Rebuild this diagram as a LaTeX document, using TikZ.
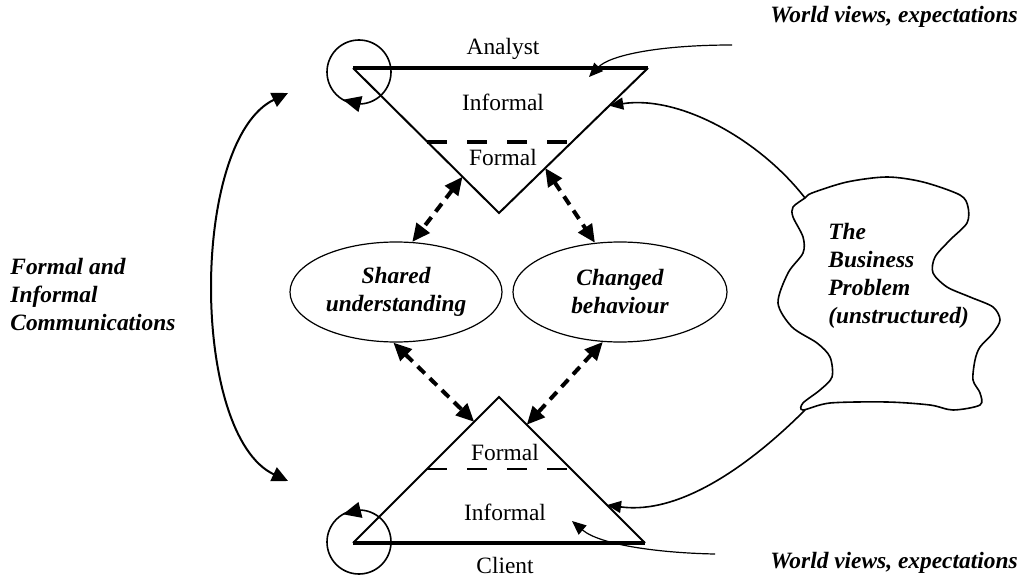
\documentclass[tikz,border=0pt]{standalone}
\usepackage{fontspec}
\setmainfont{Liberation Serif}
\usetikzlibrary{arrows.meta,calc,shapes.geometric}

\tikzset{
  lbl/.style={font=\fontsize{11.7}{14}\selectfont},
  bilbl/.style={font=\fontsize{11.7}{14}\selectfont\bfseries\itshape, align=left, inner sep=0pt},
  goal/.style={shape=ellipse, draw=black, line width=0.6pt, inner sep=0pt,
    minimum height=50pt, align=center, font=\fontsize{11.7}{14}\selectfont\bfseries\itshape},
  dasharrow/.style={{Triangle[length=9pt,width=8pt]}-{Triangle[length=9pt,width=8pt]},
    line width=2pt, dash pattern=on 5pt off 3.5pt},
  thinarrow/.style={-{Triangle[length=7pt,width=6pt]}, line width=0.6pt},
  looparrow/.style={-{Triangle[length=9pt,width=8pt]}, line width=0.8pt},
}

\begin{document}
\begin{tikzpicture}[x=0.5pt, y=0.5pt]
	\useasboundingbox (0,0) rectangle (1021,579);
	
	% analyst (top) and client (bottom) triangles
	\coordinate (a1) at (353,511);
	\coordinate (a2) at (648,511);
	\coordinate (a3) at (499,366);
	\coordinate (c1) at (499,182);
	\coordinate (c2) at (353,36);
	\coordinate (c3) at (645,36);
	
	\draw[line width=1pt, line join=miter] (a2) -- (a3) -- (a1);
	\draw[line width=1.6pt] (a1) -- (a2);
	\draw[line width=2pt, dash pattern=on 10pt off 10pt] ($(a1)!0.51!(a3)$) -- ($(a2)!0.51!(a3)$);
	\draw[line width=1pt, line join=miter] (c2) -- (c1) -- (c3);
	\draw[line width=1.6pt] (c2) -- (c3);
	\draw[line width=1pt, dash pattern=on 10pt off 10pt] ($(c1)!0.493!(c2)$) -- ($(c1)!0.493!(c3)$);
	
	\node[lbl] (analyst) at (503,530) {Analyst};
	\node[lbl] (ainf)    at (503,477) {Informal};
	\node[lbl] (aform)   at (503,422) {Formal};
	\node[lbl] (cform)   at (505,127) {Formal};
	\node[lbl] (cinf)    at (505,67)  {Informal};
	\node[lbl] (client)  at (505,14)  {Client};
	
	% self loops
	\node[shape=circle, draw=black, line width=0.8pt, minimum size=32pt, outer sep=0pt] (aloop) at (359,507) {};
	\node[shape=circle, draw=black, line width=0.8pt, minimum size=32pt, outer sep=0pt] (cloop) at (359,37) {};
	\draw[looparrow] (aloop.272) -- (aloop.240);
	\draw[looparrow] (cloop.88) -- (cloop.120);
	
	% outcomes
	\node[goal, minimum width=106pt] (shared)  at (396,287) {Shared\\understanding};
	\node[goal, minimum width=107pt] (changed) at (620,287) {Changed\\behaviour};
	
	\draw[dasharrow] ($(a1)!0.75!(a3)$) -- (shared.72);
	\draw[dasharrow] ($(a2)!0.69!(a3)$) -- (changed.117);
	\draw[dasharrow] (shared.267) -- ($(c1)!0.17!(c2)$);
	\draw[dasharrow] (changed.251) -- ($(c1)!0.19!(c3)$);
	
	% the business problem
	\draw[line width=0.8pt] plot[smooth cycle, tension=0.5] coordinates {
		(805,381) (812,386) (847,397) (887,402) (923,397) (960,384) (968,372)
		(967,356) (950,339) (935,322) (933,306) (947,292) (970,282) (993,272)
		(1000,259) (993,246) (980,232) (975,219) (973,199) (980,186) (980,174)
		(953,169) (930,174) (887,177) (830,176) (803,169) (803,176) (820,189)
		(832,202) (830,222) (817,236) (792,252) (778,276) (788,306) (803,326)
		(803,342) (793,362) (793,372)};
	\node[bilbl, anchor=west] (problem) at (828,303) {The\\Business\\Problem\\(unstructured)};
	\coordinate (ptop) at (805,381);
	\coordinate (pbot) at (805,169);
	
	\draw[thinarrow, line width=0.8pt] (ptop) .. controls (760,439) and (680,484) .. ($(a2)!0.26!(a3)$);
	\draw[thinarrow, line width=0.8pt] (pbot) .. controls (750,114) and (680,64) .. ($(c1)!0.74!(c3)$);
	
	% world views
	\node[bilbl, anchor=east] (wvtop) at (1018,562) {World views, expectations};
	\node[bilbl, anchor=east] (wvbot) at (1018,16)  {World views, expectations};
	\coordinate (wvtopend) at (732,534);
	\coordinate (wvbotend) at (715,25);
	\coordinate (ainfin) at (589,502);
	\coordinate (cinfin) at (572,58);
	\draw[thinarrow] (wvtopend) .. controls (660,534) and (610,524) .. (ainfin);
	\draw[thinarrow] (wvbotend) .. controls (660,26) and (600,34) .. (cinfin);
	
	% communications
	\node[bilbl, anchor=west] (comms) at (10,284) {Formal and\\Informal\\Communications};
	\coordinate (commtop) at (288,486);
	\coordinate (commbot) at (288,98);
	\draw[{Triangle[length=8pt,width=7.5pt]}-{Triangle[length=8pt,width=7.5pt]}, line width=1pt]
		(commtop) .. controls (190,439) and (190,144) .. (commbot);
	
\end{tikzpicture}
\end{document}
